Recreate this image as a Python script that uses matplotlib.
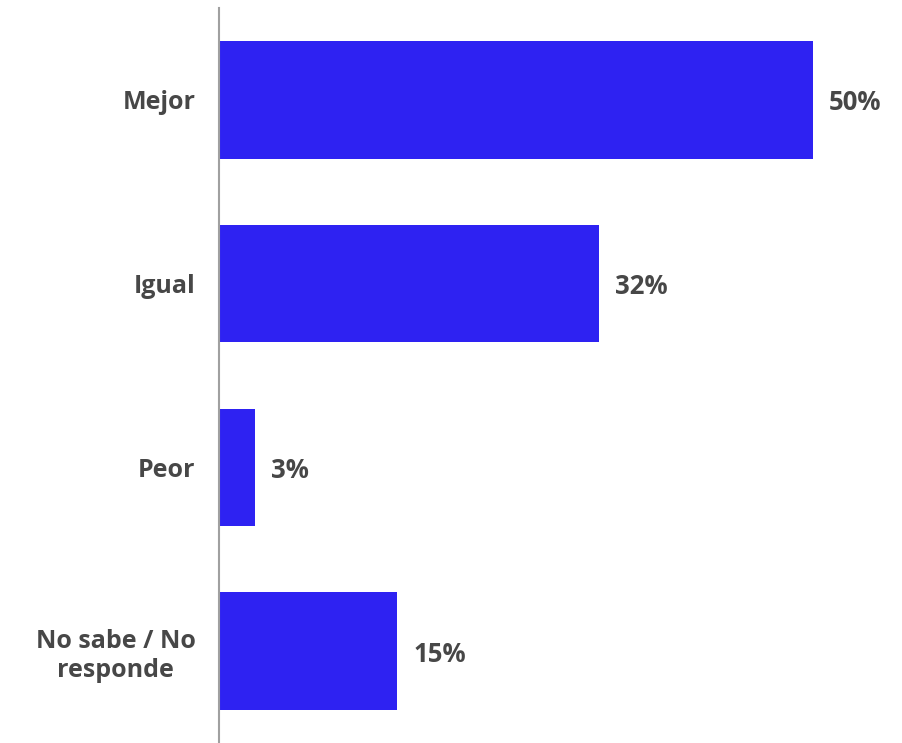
import matplotlib
matplotlib.use("Agg")
import matplotlib.pyplot as plt

categories = ["Mejor", "Igual", "Peor", "No sabe / No\nresponde"]
values = [50, 32, 3, 15]
value_labels = ["50%", "32%", "3%", "15%"]

W, H = 902, 743
fig = plt.figure(figsize=(W / 100, H / 100), dpi=100)
left = 219 / W
top_px = 8
ax = fig.add_axes([left, 0, 1 - left, 1 - top_px / H])

bar_color = "#2E22F2"
text_color = "#474747"
font = ["Open Sans", "DejaVu Sans"]

y = list(range(len(categories)))
ax.barh(y, values, height=0.64, color=bar_color)
ax.set_ylim(3.5, -0.5)
ax.set_xlim(0, (W - 219) / 11.88)

for yi, v, lab in zip(y, values, value_labels):
    ax.annotate(lab, (v, yi), xytext=(16, -3), textcoords="offset pixels",
                ha="left", va="center", fontsize=18.5, fontweight="bold",
                color=text_color, family=font)

ax.set_yticks(y)
ax.set_yticklabels(categories, fontsize=18, fontweight="bold", color=text_color,
                   family=font, linespacing=1.2)
for t in ax.get_yticklabels():
    t.set_multialignment("center")
ax.tick_params(axis="y", length=0, pad=17)
ax.set_xticks([])
for s in ["top", "right", "bottom"]:
    ax.spines[s].set_visible(False)
ax.spines["left"].set_color("#A0A0A0")
ax.spines["left"].set_linewidth(1.5)

fig.savefig("out.png", dpi=100)
